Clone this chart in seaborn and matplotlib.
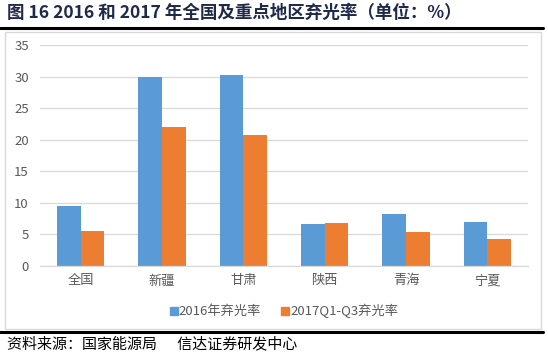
import matplotlib
matplotlib.use("Agg")
import matplotlib.pyplot as plt
import seaborn as sns
import pandas as pd
from matplotlib.patches import Rectangle
from matplotlib.lines import Line2D

regions = ["全国", "新疆", "甘肃", "陕西", "青海", "宁夏"]
rate_2016 = [9.5, 29.9, 30.2, 6.6, 8.3, 6.9]
rate_2017 = [5.5, 22.0, 20.8, 6.8, 5.4, 4.2]
series_names = ["2016年弃光率", "2017Q1-Q3弃光率"]
y_ticks = [0, 5, 10, 15, 20, 25, 30, 35]
title = "图 16 2016 和 2017 年全国及重点地区弃光率（单位：%）"
source = "资料来源：国家能源局      信达证券研发中心"

sns.set_theme(style="white")
plt.rcParams['font.family'] = ['Noto Sans CJK SC', 'DejaVu Sans']

df = pd.DataFrame({
    "region": regions * 2,
    "value": rate_2016 + rate_2017,
    "series": [series_names[0]] * len(regions) + [series_names[1]] * len(regions),
})

W, H = 548, 360
fig = plt.figure(figsize=(W / 100, H / 100), dpi=100)
ax = fig.add_axes([40 / W, 1 - 266 / H, (528 - 40) / W, (266 - 45) / H])

colors = ["#5B9BD5", "#ED7D31"]
sns.barplot(data=df, x="region", y="value", hue="series", palette=colors,
            width=0.58, ax=ax, legend=False, saturation=1, edgecolor="none")

ax.set_ylim(0, 35)
ax.set_yticks(y_ticks)
ax.set_xlim(-0.5, len(regions) - 0.5)
ax.yaxis.grid(True, color="#D9D9D9", linewidth=0.9)
ax.set_axisbelow(True)
for s in ["top", "right", "left"]:
    ax.spines[s].set_visible(False)
ax.spines["bottom"].set_color("#D9D9D9")
ax.spines["bottom"].set_linewidth(0.9)
ax.set_xlabel("")
ax.set_ylabel("")
ax.tick_params(axis="both", length=0, colors="#595959", labelsize=9.5)
ax.tick_params(axis="y", pad=8)
ax.tick_params(axis="x", pad=6)

handles = [Line2D([], [], marker="s", linestyle="none", markersize=6,
                  markerfacecolor=c, markeredgecolor=c) for c in colors]
fig.legend(handles, series_names, loc="center", bbox_to_anchor=(282 / W, 1 - 311 / H),
           ncol=2, frameon=False, fontsize=9.5, handletextpad=-0.2, columnspacing=1.2,
           handlelength=1.2, labelcolor="#595959")

# frame around chart
fig.patches.append(Rectangle((5 / W, 1 - 329 / H), (541 - 5) / W, (329 - 32) / H,
                             transform=fig.transFigure, fill=False,
                             edgecolor="#D9D9D9", linewidth=1.0))
# thick rule lines
fig.add_artist(Line2D([0 / W, 543 / W], [1 - 27.5 / H, 1 - 27.5 / H],
                      transform=fig.transFigure, color="black", linewidth=2.2))
fig.add_artist(Line2D([0 / W, 543 / W], [1 - 332 / H, 1 - 332 / H],
                      transform=fig.transFigure, color="black", linewidth=2.2))

fig.text(7 / W, 1 - 13 / H, title, ha="left", va="center", fontsize=12.6,
         fontweight="bold", color="#1F2A4A")
fig.text(7 / W, 1 - 344 / H, source, ha="left", va="center", fontsize=10.8,
         color="black", style="italic")

fig.savefig("out.png", dpi=100)
